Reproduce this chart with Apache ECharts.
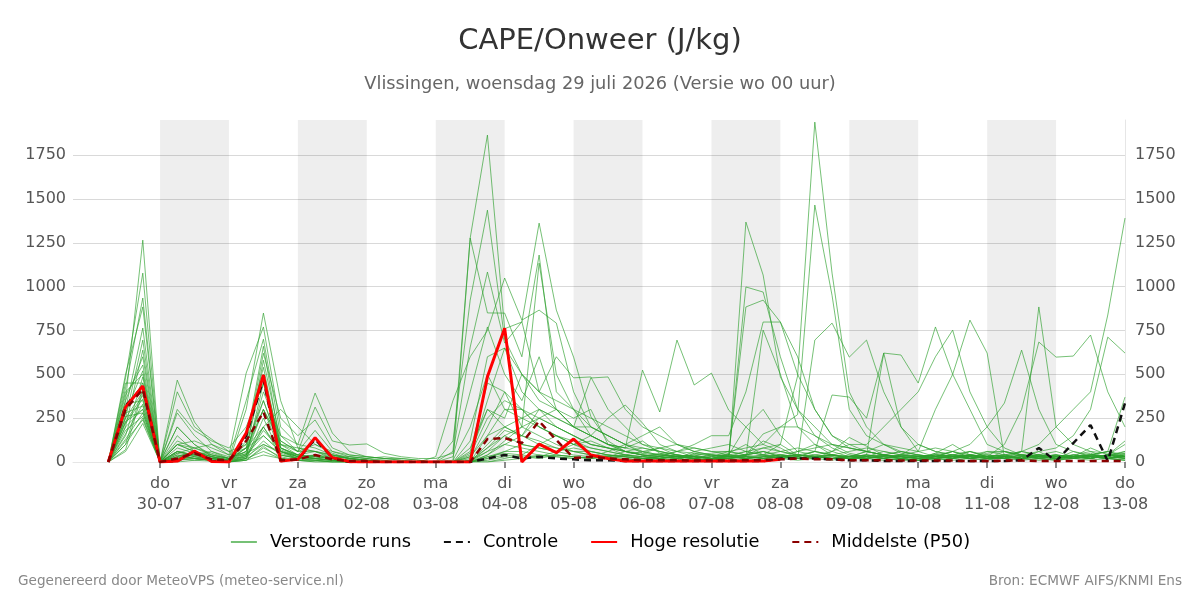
<!DOCTYPE html>
<html>
<head>
<meta charset="utf-8">
<script src="https://cdn.jsdelivr.net/npm/echarts@6/dist/echarts.min.js"></script>
<style>
  html, body { margin: 0; padding: 0; background: #fff; }
  #chart { width: 1200px; height: 600px; }
</style>
</head>
<body>
<div id="chart"></div>
<script>
// uren t.o.v. do 30-07 00 uur, stappen van 6 uur (29-07 06 uur .. 13-08 00 uur)
const hours = [];
for (let h = -18; h <= 336; h += 6) hours.push(h);

// dag-labels op de x-as (middernacht)
const tickHours = [0, 24, 48, 72, 96, 120, 144, 168, 192, 216, 240, 264, 288, 312, 336];
const dayNames = ['do', 'vr', 'za', 'zo', 'ma', 'di', 'wo', 'do', 'vr', 'za', 'zo', 'ma', 'di', 'wo', 'do'];
const dayDates = ['30-07', '31-07', '01-08', '02-08', '03-08', '04-08', '05-08', '06-08', '07-08', '08-08', '09-08', '10-08', '11-08', '12-08', '13-08'];

// grijze banden (om de dag)
const bandStarts = [0, 48, 96, 144, 192, 240, 288];

// verstoorde runs (J/kg)
const run01 = [0,350,1265,0, 60,30,10,0, 120,660,80,40, 130,40,20,10, 0,0,0,0, 0,1277,1864,760, 798,1362,866,598, 260,120,60,40, 20,10,50,30, 60,40,120,80, 30,20,60,140, 90,40,20,10, 30,60,20,10, 40,20,60,10, 30,80,40,120];
const run02 = [0,480,1077,0, 100,60,20,0, 300,849,350,80, 60,20,30,20, 10,0,0,0, 60,1277,850,849, 600,1180,400,300, 150,250,325,222, 100,60,30,20, 40,200,300,150, 60,100,40,20, 30,20,40,20, 50,100,40,20, 30,60,884,200, 100,60,20,10];
const run03 = [0,420,935,0, 467,228,100,40, 507,770,200,100, 393,165,60,30, 20,10,0,0, 120,923,1436,700, 500,350,300,200, 150,100,60,40, 30,20,10,20, 0,1368,1066,485, 300,200,100,50, 30,20,10,10, 20,40,30,20, 60,30,20,10, 20,40,60,30];
const run04 = [0,500,884,0, 280,150,60,20, 350,700,150,60, 313,120,97,103, 50,30,20,20, 50,655,1083,678, 800,400,600,480, 485,300,200,100, 60,40,30,20, 50,100,40,20, 30,60,40,20, 20,40,60,40, 30,20,60,30, 20,40,30,20, 60,30,40,50];
const run05 = [0,300,764,0, 400,200,130,60, 100,620,250,150, 240,80,40,30, 20,10,0,30, 350,600,750,1049, 809,866,792,400, 200,150,100,60, 40,30,20,10, 30,998,969,600, 300,150,80,40, 20,10,20,30, 40,60,30,20, 20,30,40,60, 30,20,40,100];
const run06 = [0,250,695,0, 100,80,50,20, 60,580,120,60, 180,60,30,20, 0,0,0,0, 30,400,770,500, 350,600,300,250, 300,100,80,120, 50,30,20,40, 40,884,923,798, 600,300,150,100, 60,40,30,20, 50,30,20,60, 40,20,30,40, 30,50,20,40];
const run07 = [0,200,638,0, 200,100,30,10, 150,540,60,20, 40,30,20,10, 0,0,0,0, 0,60,450,400, 200,1134,500,300, 200,150,100,50, 80,40,30,20, 20,30,752,500, 200,100,60,30, 40,621,200,60, 30,20,40,30, 20,60,40,20, 30,40,30,60];
const run08 = [0,380,553,0, 60,40,20,10, 80,500,100,40, 60,30,20,10, 0,0,0,0, 0,120,600,650, 500,400,300,200, 479,485,300,200, 150,100,80,60, 60,40,80,100, 40,30,20,20, 30,20,40,30, 40,20,30,50, 60,40,20,30, 40,60,50,30];
const run09 = [0,150,485,0, 40,20,10,0, 30,450,80,30, 20,10,0,0, 0,0,0,0, 0,30,350,650, 400,300,250,200, 150,100,80,524, 285,695,439,507, 296,200,100,60, 40,30,20,20, 20,30,20,10, 30,20,40,30, 20,30,40,20, 30,20,40,30];
const run10 = [0,450,450,0, 20,40,60,30, 40,400,150,100, 80,40,20,10, 0,0,0,0, 10,200,500,300, 300,250,200,150, 100,80,60,40, 40,30,20,10, 20,30,40,100, 490,1938,1077,400, 200,100,50,30, 20,30,40,20, 30,20,30,40, 20,30,20,40];
const run11 = [0,100,420,0, 150,60,30,20, 100,350,80,40, 30,20,10,0, 0,0,0,0, 0,0,150,300, 250,200,150,100, 80,60,40,30, 20,30,40,50, 60,80,100,200, 270,1465,950,300, 150,100,60,40, 30,40,60,30, 20,40,30,20, 40,30,20,50];
const run12 = [0,70,400,0, 50,30,20,10, 60,300,60,20, 40,20,10,0, 0,0,0,0, 0,50,300,200, 150,100,80,60, 40,30,20,30, 40,60,100,150, 150,400,798,798, 500,300,150,80, 60,40,30,20, 40,30,20,10, 30,20,40,30, 20,40,30,20];
const run13 = [0,230,380,0, 30,20,10,0, 20,250,40,20, 20,10,0,0, 0,0,0,0, 0,0,100,200, 150,300,250,200, 150,100,80,60, 40,30,20,10, 20,40,60,30, 20,695,792,598, 695,400,200,100, 60,40,30,20, 30,20,30,40, 30,20,40,30];
const run14 = [0,330,350,0, 80,50,30,10, 40,200,60,30, 20,10,0,0, 0,0,0,0, 0,20,200,400, 300,200,150,100, 60,40,30,20, 20,30,40,20, 30,40,20,30, 40,60,382,370, 250,621,610,450, 770,500,300,100, 60,40,30,20, 40,30,20,30];
const run15 = [0,280,320,0, 60,40,20,10, 80,150,60,30, 20,10,0,0, 0,0,0,0, 0,10,60,150, 100,80,60,40, 30,60,100,150, 200,100,60,40, 30,60,40,30, 20,40,60,100, 100,200,300,400, 600,752,400,200, 80,40,30,20, 30,40,60,40];
const run16 = [0,200,300,0, 200,100,40,20, 30,100,50,20, 10,10,0,0, 0,0,0,0, 0,0,40,100, 80,60,40,30, 20,30,40,60, 80,100,60,40, 30,20,40,60, 80,60,40,30, 60,100,80,60, 300,500,809,621, 30,20,40,30, 20,30,40,60];
const run17 = [0,260,280,0, 20,10,5,0, 10,80,30,10, 10,0,0,0, 0,0,0,0, 0,0,20,60, 60,40,30,20, 30,20,40,30, 20,40,30,20, 40,30,20,40, 30,60,40,30, 40,30,20,40, 30,60,100,200, 336,638,300,100, 60,40,20,30];
const run18 = [0,180,260,0, 30,20,10,0, 40,150,60,30, 20,10,0,0, 0,0,0,0, 0,0,30,50, 40,30,60,80, 60,40,30,20, 30,20,10,20, 30,40,60,30, 40,30,20,40, 30,20,40,60, 80,60,40,30, 100,300,684,598, 604,724,400,200];
const run19 = [0,120,240,0, 10,20,10,0, 20,60,20,10, 10,0,0,0, 0,0,0,0, 0,0,20,40, 30,20,40,30, 20,30,20,10, 20,30,40,20, 30,20,30,40, 20,30,40,30, 20,40,30,20, 30,40,20,30, 40,60,100,200, 300,400,838,1391];
const run20 = [0,60,220,0, 40,20,10,0, 10,40,20,10, 0,0,0,0, 0,0,0,0, 0,0,10,30, 20,40,30,20, 30,20,10,20, 30,20,30,20, 10,20,30,20, 30,20,10,30, 40,30,20,10, 20,30,40,20, 30,40,60,80, 150,300,712,621];
const run21 = [0,350,600,0, 300,180,120,80, 200,450,100,60, 60,40,30,20, 30,20,10,0, 0,80,300,250, 500,400,350,300, 250,200,150,100, 80,60,50,40, 30,20,30,40, 60,40,30,20, 40,30,20,30, 40,30,20,30, 40,60,40,20, 30,40,60,370];
const run22 = [0,400,500,0, 100,120,80,40, 80,200,300,200, 100,60,40,30, 20,20,10,0, 0,30,150,200, 250,300,200,150, 100,80,60,50, 40,30,20,30, 40,30,20,30, 40,30,40,60, 80,60,40,30, 20,30,40,30, 20,30,20,30, 40,30,20,10];
const run23 = [0,300,450,0, 50,80,100,60, 40,300,100,80, 60,40,20,10, 10,0,0,0, 0,10,80,150, 200,250,300,200, 200,150,100,80, 60,40,30,20, 20,40,160,200, 200,150,100,80, 60,40,30,20, 30,20,30,40, 30,20,40,20, 30,20,40,30];
const run24 = [0,250,400,0, 20,60,40,20, 60,350,80,40, 30,20,10,0, 0,0,0,0, 0,0,60,100, 150,250,200,150, 100,80,60,40, 30,20,60,80, 100,60,40,20, 60,80,100,80, 60,40,30,20, 20,30,40,60, 60,40,20,30, 20,30,20,40];
const run25 = [0,230,300,0, 10,30,20,0, 20,200,40,20, 10,0,0,0, 0,0,0,0, 0,0,0,20, 40,100,150,120, 80,60,40,20, 20,30,20,10, 20,30,20,30, 40,30,20,30, 20,30,40,30, 20,10,20,30, 30,20,10,20, 30,20,30,20];
const run26 = [0,100,250,0, 100,60,30,10, 50,100,60,40, 20,10,0,0, 0,0,0,0, 0,0,30,60, 100,80,60,100, 150,100,60,40, 30,60,80,60, 40,20,30,40, 20,30,40,20, 30,60,40,100, 60,40,20,30, 20,30,20,10, 20,10,20,30];
const run27 = [0,160,330,0, 30,60,30,10, 20,120,40,20, 30,20,10,0, 0,0,0,0, 0,0,40,120, 200,150,100,60, 40,30,60,80, 60,40,30,20, 20,30,20,30, 20,40,20,30, 40,20,30,40, 20,30,20,40, 30,20,30,20, 30,20,40,20];
const run28 = [0,280,520,0, 120,80,40,20, 80,300,120,60, 100,50,20,10, 0,0,0,0, 0,40,250,350, 300,200,150,100, 120,80,40,30, 50,30,20,40, 30,40,60,40, 30,20,40,30, 60,40,20,30, 40,30,20,30, 40,20,30,40, 20,40,30,20];
const run29 = [0,220,360,0, 0,10,20,0, 10,90,20,10, 0,0,0,0, 0,0,0,0, 0,0,0,10, 20,30,40,30, 20,40,30,20, 10,20,30,20, 30,20,10,20, 10,20,30,20, 30,20,10,20, 10,20,30,20, 20,10,20,30, 20,30,20,10];
const run30 = [0,130,280,0, 60,40,20,10, 30,180,70,30, 40,20,10,0, 0,0,0,0, 0,0,80,180, 150,120,80,60, 60,40,30,20, 30,40,20,30, 40,60,80,60, 40,30,20,30, 30,40,60,40, 30,40,60,40, 30,20,30,40, 30,20,40,30];

// controle-run, hoge resolutie (loopt t/m 08-08) en mediaan
const controle = [0,320,430,0, 5,60,5,0, 150,470,5,15, 130,25,0,0, 0,0,0,0, 0,0,20,40, 20,30,20,15, 10,10,5,5, 5,5,5,5, 5,5,5,20, 20,20,15,10, 10,5,5,5, 5,5,5,5, 5,10,80,5, 108,211,5,336];
const hogeResolutie = [0,313,433,0, 5,63,3,0, 165,496,5,15, 139,25,2,0, 0,0,0,0, 0,0,486,763, 0,102,53,131, 40,20,5,5, 5,5,5,5, 5,5,5,15];
const mediaan = [0,300,415,0, 20,50,15,10, 120,285,10,15, 40,15,5,5, 0,0,0,0, 0,0,131,136, 108,233,125,23, 30,20,15,10, 10,10,8,8, 8,10,10,15, 20,15,15,10, 10,10,8,8, 8,8,5,5, 8,8,5,5, 5,5,5,5];

const runs = [run01, run02, run03, run04, run05, run06, run07, run08, run09, run10,
  run11, run12, run13, run14, run15, run16, run17, run18, run19, run20,
  run21, run22, run23, run24, run25, run26, run27, run28, run29, run30];

const font = 'DejaVu Sans';
const toPairs = arr => arr.map((v, i) => [hours[i], v]);

const series = runs.map((r, idx) => ({
  name: 'Verstoorde runs',
  type: 'line',
  symbol: 'none',
  data: toPairs(r),
  lineStyle: { color: '#2ca02c', width: 1, opacity: 0.65 },
  itemStyle: { color: '#2ca02c' },
  z: 2,
  markArea: idx === 0 ? {
    silent: true,
    itemStyle: { color: 'rgba(0,0,0,0.067)', borderWidth: 0 },
    data: bandStarts.map(s => [{ xAxis: s }, { xAxis: s + 24 }])
  } : undefined
}));

series.push({
  name: 'Controle',
  type: 'line',
  symbol: 'none',
  data: toPairs(controle),
  lineStyle: { color: '#111', width: 2.5, type: [7, 5] },
  itemStyle: { color: '#111' },
  z: 3
});
series.push({
  name: 'Hoge resolutie',
  type: 'line',
  symbol: 'none',
  data: toPairs(hogeResolutie),
  lineStyle: { color: '#ff0000', width: 3 },
  itemStyle: { color: '#ff0000' },
  z: 4
});
series.push({
  name: 'Middelste (P50)',
  type: 'line',
  symbol: 'none',
  data: toPairs(mediaan),
  lineStyle: { color: '#8b0000', width: 2.5, type: [7, 5] },
  itemStyle: { color: '#8b0000' },
  z: 5
});

const yAxisBase = {
  type: 'value',
  min: 0,
  max: 1950,
  interval: 250,
  axisTick: { show: false },
  axisLabel: { fontFamily: font, fontSize: 16, color: '#555', showMaxLabel: false, formatter: v => String(v) }
};

const xAxisBase = {
  type: 'value',
  min: -30.3,
  max: 336,
  splitLine: { show: false }
};

const chart = echarts.init(document.getElementById('chart'));
chart.setOption({
  animation: false,
  backgroundColor: '#fff',
  title: [
    {
      text: 'CAPE/Onweer (J/kg)',
      left: 'center', top: 27, padding: 0,
      textStyle: { fontFamily: font, fontSize: 29, fontWeight: 'normal', color: '#333' }
    },
    {
      text: 'Vlissingen, woensdag 29 juli 2026 (Versie wo 00 uur)',
      left: 'center', top: 75, padding: 0,
      textStyle: { fontFamily: font, fontSize: 17.8, fontWeight: 'normal', color: '#666' }
    },
    {
      text: 'Gegenereerd door MeteoVPS (meteo-service.nl)',
      left: 18, top: 574, padding: 0,
      textStyle: { fontFamily: font, fontSize: 13.6, fontWeight: 'normal', color: '#888' }
    },
    {
      text: 'Bron: ECMWF AIFS/KNMI Ens',
      right: 18, top: 574, padding: 0,
      textStyle: { fontFamily: font, fontSize: 13.6, fontWeight: 'normal', color: '#888' }
    }
  ],
  legend: {
    data: ['Verstoorde runs', 'Controle', 'Hoge resolutie', 'Middelste (P50)'],
    left: 'center',
    top: 528,
    itemWidth: 26,
    itemHeight: 12,
    itemGap: 32,
    itemStyle: { opacity: 0 },
    textStyle: { fontFamily: font, fontSize: 17.8, color: '#000', padding: [0, 0, 0, 8] }
  },
  grid: { left: 73, right: 75, top: 120, bottom: 138 },
  xAxis: [
    Object.assign({}, xAxisBase, {
      position: 'bottom',
      axisLine: { show: true, onZero: false, lineStyle: { color: '#e6e6e6' } },
      axisTick: { show: true, customValues: tickHours, length: 6, lineStyle: { color: '#666', width: 1.5 } },
      axisLabel: {
        customValues: tickHours,
        fontFamily: font, fontSize: 16, color: '#555', margin: 14,
        formatter: v => { const k = tickHours.indexOf(v); return k < 0 ? '' : dayNames[k]; }
      }
    }),
    Object.assign({}, xAxisBase, {
      position: 'bottom',
      axisLine: { show: false, onZero: false },
      axisTick: { show: false },
      axisLabel: {
        customValues: tickHours,
        fontFamily: font, fontSize: 16, color: '#555', margin: 35,
        formatter: v => { const k = tickHours.indexOf(v); return k < 0 ? '' : dayDates[k]; }
      }
    })
  ],
  yAxis: [
    Object.assign({}, yAxisBase, {
      position: 'left',
      axisLine: { show: false, onZero: false },
      axisLabel: Object.assign({}, yAxisBase.axisLabel, { margin: 7 }),
      splitLine: { show: true, showMaxLine: false, lineStyle: { color: '#d9d9d9' } }
    }),
    Object.assign({}, yAxisBase, {
      position: 'right',
      axisLine: { show: true, onZero: false, lineStyle: { color: '#e6e6e6' } },
      axisLabel: Object.assign({}, yAxisBase.axisLabel, { margin: 10 }),
      splitLine: { show: false }
    })
  ],
  series: series
});
</script>
</body>
</html>
